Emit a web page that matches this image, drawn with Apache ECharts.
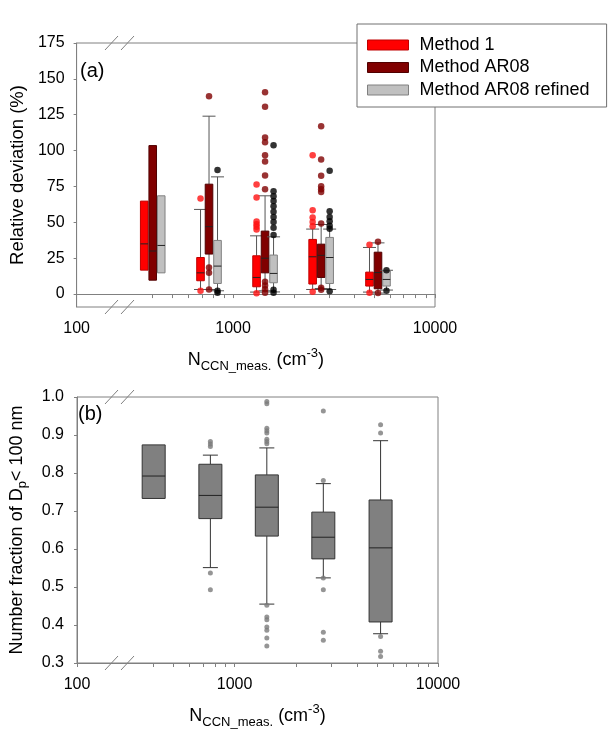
<!DOCTYPE html>
<html><head><meta charset="utf-8">
<script src="https://cdn.jsdelivr.net/npm/echarts@6/dist/echarts.min.js"></script>
<style>html,body{margin:0;padding:0;background:#fff}#c{width:609px;height:737px}</style>
</head><body><div id="c"></div>
<script>
// ---- data ----
const groupN = [400, 760, 1440, 2730, 5220];           // N_CCN bin centres (cm-3)
const seriesNames = ['Method 1', 'Method AR08', 'Method AR08 refined'];
// box stats: [lower whisker, q1, median, q3, upper whisker]
const method1Box = [
  [16.7, 16.7, 35, 64.8, 64.8],
  [3.2, 9.3, 14.8, 25.5, 59],
  [1.4, 5.1, 11.6, 26.7, 40.6],
  [3.2, 7, 26, 38.1, 45.3],
  [1.4, 5.6, 10.2, 15.3, 32.5]
];
const ar08Box = [
  [9.7, 9.7, 30, 103.5, 103.5],
  [3.2, 27.9, 47, 76.6, 124],
  [2.3, 14.8, 25, 43.9, 68.5],
  [3.9, 11.6, 27, 34.8, 48.5],
  [0.7, 3.7, 15, 29.2, 35.7]
];
const refinedBox = [
  [14.8, 14.8, 33.9, 68.5, 68.5],
  [2.3, 7.4, 19.5, 37.4, 81.7],
  [1.5, 7.9, 14.4, 27.2, 39.9],
  [3.2, 7.4, 25.5, 39.5, 45.3],
  [2.8, 5.6, 10.2, 16.2, 16.6]
];
// outliers: [group index, value]
const method1Out = [
  [1, 66.6], [1, 2.3],
  [2, 76.4], [2, 67.3], [2, 50.6], [2, 48.7], [2, 46.9], [2, 45], [2, 0.5],
  [3, 96.8], [3, 58.5], [3, 53.4], [3, 50.3], [3, 47.3], [3, 1.6],
  [4, 34.3], [4, 1]
];
const ar08Out = [
  [1, 137.9], [1, 18.6], [1, 14.8], [1, 3.2],
  [2, 140.7], [2, 130.5], [2, 109.2], [2, 105.8], [2, 96.8], [2, 92.4], [2, 82.6], [2, 73.1], [2, 8.6], [2, 6], [2, 3.4], [2, 1],
  [3, 117], [3, 93.8], [3, 82.4], [3, 75.2], [3, 73.1], [3, 71.2], [3, 49.2], [3, 4.5], [3, 3],
  [4, 36.4], [4, 0.7]
];
const refinedOut = [
  [1, 86.4], [1, 2.3], [1, 1],
  [2, 103.8], [2, 71.7], [2, 68.2], [2, 64.8], [2, 61.3], [2, 57.3], [2, 53.8], [2, 50.3], [2, 46.2], [2, 41.1], [2, 3], [2, 1],
  [3, 85.9], [3, 57.8], [3, 53.8], [3, 50.8], [3, 47.6], [3, 45.5], [3, 2],
  [4, 16.7], [4, 2.3]
];
const fractionBox = [
  [0.733, 0.733, 0.792, 0.874, 0.874],
  [0.551, 0.680, 0.741, 0.823, 0.847],
  [0.455, 0.634, 0.710, 0.795, 0.866],
  [0.524, 0.574, 0.631, 0.697, 0.772],
  [0.377, 0.408, 0.603, 0.729, 0.885]
];
const fractionOut = [
  [1, 0.883], [1, 0.876], [1, 0.870], [1, 0.537], [1, 0.493],
  [2, 0.988], [2, 0.982], [2, 0.918], [2, 0.911], [2, 0.905], [2, 0.889], [2, 0.883], [2, 0.877],
  [2, 0.452], [2, 0.421], [2, 0.414], [2, 0.395], [2, 0.386], [2, 0.366], [2, 0.345],
  [3, 0.963], [3, 0.780], [3, 0.524], [3, 0.493], [3, 0.381], [3, 0.360],
  [4, 0.927], [4, 0.905], [4, 0.370], [4, 0.331], [4, 0.317]
];
const xTickValues = [100, 1000, 10000];
const xTickLabels = ['100', '1000', '10000'];
const xMinorTicks = [400, 500, 600, 700, 800, 900, 2000, 3000, 4000, 5000, 6000, 7000, 8000, 9000];
const yTopTicks = [0, 25, 50, 75, 100, 125, 150, 175];
const yBottomTicks = [0.3, 0.4, 0.5, 0.6, 0.7, 0.8, 0.9, 1.0];

// ---- chart ----
const FONT = '"Liberation Sans", Arial, sans-serif';
const X_MIN = 2.225, X_MAX = 4;   // log10 axis (axis broken below ~170)
const lg = v => Math.log10(v);
const xLabelPos = [X_MIN, lg(1000), lg(10000)];
const xTickPos = [X_MIN].concat(xMinorTicks.map(lg), [3, 4]).sort((a, b) => a - b);
const AXIS = '#808080';

function boxData(arr) { return arr.map((b, i) => [lg(groupN[i])].concat(b)); }
function outData(arr) { return arr.map(o => [lg(groupN[o[0]]), o[1]]); }

function makeRender(dx, halfW, capHalf, fill, border, whisk) {
  return function (params, api) {
    const xv = api.value(0);
    const pW = api.coord([xv, api.value(1)]);
    const cx = pW[0] + dx;
    const yWl = pW[1];
    const yQ1 = api.coord([xv, api.value(2)])[1];
    const yMed = api.coord([xv, api.value(3)])[1];
    const yQ3 = api.coord([xv, api.value(4)])[1];
    const yWh = api.coord([xv, api.value(5)])[1];
    const ch = [];
    const ls = { stroke: whisk, lineWidth: 1 };
    if (yWh < yQ3 - 0.5) {
      ch.push({ type: 'line', shape: { x1: cx, y1: yQ3, x2: cx, y2: yWh }, style: ls });
      ch.push({ type: 'line', shape: { x1: cx - capHalf, y1: yWh, x2: cx + capHalf, y2: yWh }, style: ls });
    }
    if (yWl > yQ1 + 0.5) {
      ch.push({ type: 'line', shape: { x1: cx, y1: yQ1, x2: cx, y2: yWl }, style: ls });
      ch.push({ type: 'line', shape: { x1: cx - capHalf, y1: yWl, x2: cx + capHalf, y2: yWl }, style: ls });
    }
    ch.push({ type: 'rect', shape: { x: cx - halfW, y: yQ3, width: 2 * halfW, height: yQ1 - yQ3 },
      style: { fill: fill, stroke: border, lineWidth: 1 } });
    ch.push({ type: 'line', shape: { x1: cx - halfW, y1: yMed, x2: cx + halfW, y2: yMed },
      style: { stroke: '#222', lineWidth: 1 } });
    return { type: 'group', children: ch };
  };
}

const colors = ['#ff0000', '#800000', '#c0c0c0'];
const borders = ['#c00000', '#500000', '#808080'];
const outColors = ['#ff1010', '#800000', '#000000'];
const boxes = [method1Box, ar08Box, refinedBox];
const outs = [method1Out, ar08Out, refinedOut];
const offsets = [-8.5, 0, 8.5];

function xAxisCfg(gridIndex) {
  return {
    type: 'value', gridIndex: gridIndex, min: X_MIN, max: X_MAX,
    axisLine: { show: true, lineStyle: { color: AXIS, width: 1 } },
    splitLine: { show: false },
    axisTick: { show: true, length: 4, lineStyle: { color: AXIS }, customValues: xTickPos },
    axisLabel: {
      show: true, margin: 14, fontSize: 16, color: '#000', fontFamily: FONT,
      customValues: xLabelPos,
      formatter: function (v) {
        let best = 0;
        xLabelPos.forEach((p, i) => { if (Math.abs(p - v) < Math.abs(xLabelPos[best] - v)) best = i; });
        return xTickLabels[best];
      }
    },
    name: '{a|N}{s|CCN_meas.}{a| (cm}{u|-3}{a|)}',
    nameLocation: 'middle', nameGap: 40,
    nameTextStyle: {
      rich: {
        a: { fontSize: 18, fontFamily: FONT, color: '#000', lineHeight: 26, verticalAlign: 'middle' },
        s: { fontSize: 13, fontFamily: FONT, color: '#000', lineHeight: 26, verticalAlign: 'bottom' },
        u: { fontSize: 13, fontFamily: FONT, color: '#000', lineHeight: 26, verticalAlign: 'top' }
      }
    }
  };
}

const series = [];
for (let k = 0; k < 3; k++) {
  series.push({
    name: seriesNames[k], type: 'custom', xAxisIndex: 0, yAxisIndex: 0,
    renderItem: makeRender(offsets[k], 3.8, 6.5, colors[k], borders[k], '#555'),
    itemStyle: { color: colors[k], borderColor: borders[k] },
    encode: { x: 0, y: [1, 2, 3, 4, 5] },
    data: boxData(boxes[k]), z: 2
  });
}
for (let k = 0; k < 3; k++) {
  series.push({
    name: seriesNames[k] + ' outliers', type: 'scatter', xAxisIndex: 0, yAxisIndex: 0,
    symbol: 'circle', symbolSize: 6.5, symbolOffset: [offsets[k], 0],
    itemStyle: { color: outColors[k] }, data: outData(outs[k]), z: 3, silent: true
  });
}
series.push({
  name: 'fraction', type: 'custom', xAxisIndex: 1, yAxisIndex: 1,
  renderItem: makeRender(0, 11.5, 7.5, '#808080', '#333333', '#333333'),
  encode: { x: 0, y: [1, 2, 3, 4, 5] },
  data: boxData(fractionBox), z: 2
});
series.push({
  name: 'fraction outliers', type: 'scatter', xAxisIndex: 1, yAxisIndex: 1,
  symbol: 'circle', symbolSize: 5, itemStyle: { color: '#7a7a7a' },
  data: outData(fractionOut), z: 3, silent: true
});

function slash(x, y) {
  return { type: 'line', shape: { x1: x, y1: y + 7, x2: x + 13, y2: y - 7 }, style: { stroke: AXIS, lineWidth: 1 }, z: 10 };
}

const option = {
  animation: false,
  backgroundColor: '#fff',
  grid: [
    { left: 76, top: 43, width: 359, height: 264, show: true, borderColor: AXIS, borderWidth: 1, backgroundColor: 'transparent' },
    { left: 76, top: 397, width: 362, height: 266, show: true, borderColor: AXIS, borderWidth: 1, backgroundColor: 'transparent' }
  ],
  xAxis: [xAxisCfg(0), xAxisCfg(1)],
  yAxis: [
    {
      type: 'value', gridIndex: 0, min: -9, max: 175,
      axisLine: { show: true, lineStyle: { color: AXIS } },
      splitLine: { show: false },
      axisTick: { show: true, length: 3, lineStyle: { color: AXIS }, customValues: yTopTicks },
      axisLabel: { customValues: yTopTicks, margin: 12, fontSize: 16, color: '#000', fontFamily: FONT },
      name: 'Relative deviation (%)', nameLocation: 'middle', nameGap: 48, nameRotate: 90,
      nameTextStyle: { fontSize: 18.5, fontFamily: FONT, color: '#000' }
    },
    {
      type: 'value', gridIndex: 1, min: 0.3, max: 1.0,
      axisLine: { show: true, lineStyle: { color: AXIS } },
      splitLine: { show: false },
      axisTick: { show: true, length: 3, lineStyle: { color: AXIS }, customValues: yBottomTicks },
      axisLabel: { customValues: yBottomTicks, margin: 13, fontSize: 16, color: '#000', fontFamily: FONT,
        formatter: v => v.toFixed(1) },
      name: '{a|Number fraction of D}{s|p}{a|< 100 nm}', nameLocation: 'middle', nameGap: 48, nameRotate: 90,
      nameTextStyle: {
        rich: {
          a: { fontSize: 18, fontFamily: FONT, color: '#000', lineHeight: 24, verticalAlign: 'middle' },
          s: { fontSize: 13, fontFamily: FONT, color: '#000', lineHeight: 24, verticalAlign: 'bottom' }
        }
      }
    }
  ],
  legend: {
    show: true, orient: 'vertical', left: 357, top: 24,
    data: seriesNames.map((n, k) => ({ name: n, icon: 'rect', itemStyle: { color: colors[k], borderColor: borders[k], borderWidth: 1 } })),
    itemWidth: 41, itemHeight: 10, itemGap: 4.5,
    padding: [12, 17, 8, 10],
    backgroundColor: '#fff', borderColor: '#707070', borderWidth: 1,
    textStyle: { fontSize: 18, fontFamily: FONT, color: '#000', lineHeight: 18, padding: [0, 0, 0, 6] },
    selectedMode: false, z: 20
  },
  graphic: [
    { type: 'text', left: 80, top: 61, style: { text: '(a)', fontSize: 20, fontFamily: FONT, fill: '#000' }, z: 10 },
    { type: 'text', left: 78, top: 404, style: { text: '(b)', fontSize: 20, fontFamily: FONT, fill: '#000' }, z: 10 },
    slash(105, 43), slash(121, 43), slash(105, 307), slash(121, 307),
    slash(105, 397), slash(121, 397), slash(105, 663), slash(121, 663)
  ],
  series: series
};

const chart = echarts.init(document.getElementById('c'), null, { renderer: 'canvas' });
chart.setOption(option);
</script>
</body></html>
